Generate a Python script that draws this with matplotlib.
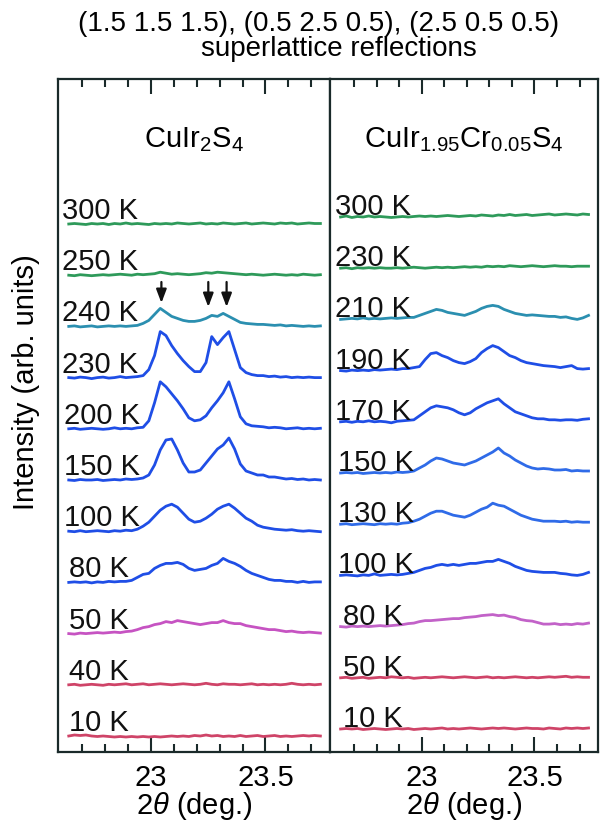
import numpy as np
import matplotlib
matplotlib.use('Agg')
import matplotlib.pyplot as plt
from matplotlib.ticker import FixedLocator

plt.rcParams['font.family'] = ['Liberation Sans', 'DejaVu Sans']
plt.rcParams['mathtext.fontset'] = 'custom'
plt.rcParams['mathtext.rm'] = 'Liberation Sans'
plt.rcParams['mathtext.it'] = 'Liberation Sans:italic'

# 2theta grid of the scans (deg.)
two_theta = np.linspace(22.64, 23.74, 45)

# ---- CuIr2S4 (left panel), intensity above each baseline, arb. units ----
L_temps = ['300 K', '250 K', '240 K', '230 K', '200 K', '150 K', '100 K', '80 K', '50 K', '40 K', '10 K']
L300 = [0, 0.5, 0, -0.5, 0.5, 0, 0.5, -0.5, 0.5, 0, 1, 0, 0.5, 0, -0.5, 0.5, 0, 0.5, 0, 1, 0.5, 0, 0.5, 1, 0,
        0.5, 0, 1, 0.5, 0, 0.5, 1, 0, 0.5, 1, 0.5, 0, 1, 0.5, 1, 0, 0.5, 1, 0.5, 0.5]
L250 = [0, -0.5, 0.5, 0, -0.5, 0, 0.5, 0, 0.5, 1, 0.5, 0, 1, 0.5, 1, 1.5, 3, 2, 1, 1.5, 1, 0.5, 1, 1.5, 2.5,
        2, 3, 2.5, 2, 1.5, 1, 0.5, 1, 0.5, 0, 0.5, 1, 0.5, 0, 0.5, 0, 1, 0.5, 0, 0.5]
L240 = [0, 0.5, -0.5, 0, 0.5, -0.5, 0, 0.5, 0, 0.5, 0, 0.5, 1, 3, 6, 12, 18, 14, 10, 8, 6, 5, 5, 6, 8,
        11, 10, 13, 10, 7, 4, 3, 2.5, 2, 2, 1.5, 1, 1.5, 0.5, 1, 0.5, 0, 0.5, 0, 0.5]
L230 = [0, -0.5, 0.5, 0, -1, 0, 0.5, -0.5, 0, 1, 0, 0.5, 1, 2, 8, 22, 46, 42, 32, 24, 17, 11, 6, 6, 15,
        41, 33, 40, 46, 28, 10, 5, 3, 2, 2, 1, 1.5, 0.5, 1, 0, 0.5, 0, 0.5, 0, 0]
L200 = [0, 0.5, -0.5, 0, 0.5, 0, -0.5, 0, 1, 0, 0.5, 0, 1, 1.5, 8, 26, 47, 42, 35, 28, 20, 11, 8, 9, 13,
        21, 28, 36, 47, 30, 12, 5, 3, 2.5, 2, 1, 1.5, 1, 0, 0.5, 1, 0, 0.5, 0, 0.5]
L150 = [0, -0.5, 0.5, 0, 0, 0.5, -0.5, 0, 0.5, 0, 1, 0.5, 1, 2, 5, 15, 30, 40, 41, 30, 17, 8, 8, 10, 17,
        24, 31, 35, 42, 31, 16, 9, 7, 5, 5, 3, 3, 2, 1, 1.5, 0.5, 1, 0, 0.5, 0]
L100 = [0, -0.5, 0.5, -0.5, 0, 0.5, 0, -0.5, 0.5, 0, 1, 0.5, 2, 5, 9, 15, 21, 25, 27, 24, 18, 12, 9, 10, 13,
        17, 22, 25, 27, 23, 18, 13, 10, 6, 4, 3, 2, 1.5, 1, 1.5, 0.5, 0, 0.5, 0, -0.5]
L80 = [0, 0.5, 0, 0.5, -0.5, 0.5, 0, 1, 0.5, 1, 1, 2, 5, 8, 9, 14, 17, 19, 19, 20, 18, 14, 12, 13, 14,
       17, 19, 24, 21, 19, 16, 12, 9, 7, 5, 3, 2, 2, 1, 1, 0, 1, 0, 0.5, 0.5]
L50 = [0, -0.5, 0.5, 0, 0.5, 1, 0.5, 1, 1.5, 1, 2, 2.5, 4, 6, 7, 9, 10, 12, 11, 13, 12, 11, 10, 9, 10,
       11, 11, 13, 11, 10, 10, 8, 7, 6, 5, 4, 4, 3, 2, 2.5, 1.5, 1, 1.5, 1, 0.5]
L40 = [0, 0.5, -0.5, 0, 0.5, 0, -0.5, 0.5, 0, 0.5, 1, 0, 0.5, 1, 0, 0.5, 1, 0.5, 0, 0.5, 1, 0.5, 0, 0.5, 1.5,
       0.5, 0, 1, 0.5, 0.5, 0, 0.5, 1, 0, 0.5, 0, 0.5, 0, 0.5, 1.5, 0.5, 0, 0.5, 0, 0.5]
L10 = [0, 1, 0.5, 1, 0, -0.5, 0, -0.5, -1, -0.5, -1, -0.5, -1, -0.5, -1, -0.5, -1, -0.5, 0, -0.5, 0, -0.5, 0.5, 0, 1,
       0, 0.5, -0.5, 0, -0.5, 0.5, -0.5, 0, 0.5, -0.5, 0, 0.5, -0.5, 0, -0.5, 0, 0.5, 0, 0.5, 0]
L_curves = [L300, L250, L240, L230, L200, L150, L100, L80, L50, L40, L10]

# ---- CuIr1.95Cr0.05S4 (right panel) ----
R_temps = ['300 K', '230 K', '210 K', '190 K', '170 K', '150 K', '130 K', '100 K', '80 K', '50 K', '10 K']
R300 = [0, 1, -0.5, 0.5, 0, 1, 0, 0.5, 0, -0.5, 0, 0.5, 0, 0.5, 1, 0.5, 1, 0.5, 1, 1.5, 1, 0.5, 1, 1.5, 1,
        2, 1.5, 1, 2, 1.5, 2.5, 1.5, 2, 2.5, 1.5, 2, 2.5, 3, 2, 2.5, 3, 2.5, 2, 3, 2.5]
R230 = [0, 0.5, -0.5, 0.5, 0, 0.5, 0, 0.5, 0, 0, 0.5, 0, 0.5, 1, 0.5, 0, 0.5, 1, 0.5, 1, 0.5, 1, 1.5, 1, 1.5,
        1, 2, 1.5, 2, 1.5, 2.5, 2, 1.5, 2, 2.5, 2, 1.5, 2, 2.5, 2, 2, 1.5, 2, 2, 2]
R210 = [0, 0.5, 1, 0.5, 1.5, 0.5, 1, 0.5, 1, 1.5, 1, 1.5, 2, 2, 4, 6, 8, 10, 9, 7, 6, 5, 4, 6, 8,
        11, 13, 14, 13, 10, 8, 6, 5, 4, 4.5, 4, 3.5, 3, 3, 2, 2.5, 1, 0, 1.5, 4]
R190 = [0, -0.5, 0.5, 0, 0.5, 0, 1, 0.5, 1, 1.5, 1, 2, 2, 3, 4, 11, 17, 18, 15, 13, 10, 8, 7, 9, 12,
        18, 22, 25, 23, 19, 15, 13, 10, 8, 7, 6, 5, 4.5, 4, 3, 4, 5, 2, 1.5, 2]
R170 = [0, 0.5, -0.5, 0.5, 0, 1, 0, 0.5, 0, -1, 0.5, 1, 1.5, 2, 6, 10, 14, 16, 15, 14, 12, 9, 7, 9, 13,
        16, 19, 21, 23, 18, 14, 10, 8, 6, 4, 3, 3, 2, 2, 1.5, 2, 2, 1.5, 2.5, 3]
R150 = [0, 0.5, 0, 0.5, -0.5, 0, 0.5, 0, 0.5, 0, 1, 0.5, 1, 2, 5, 8, 12, 15, 14, 12, 10, 9, 8, 10, 12,
        15, 18, 21, 25, 20, 17, 13, 10, 7, 5, 4, 4.5, 4, 3, 3, 3.5, 2, 2.5, 2, 2]
R130 = [0, 0.5, -0.5, 0, 0.5, 0, -0.5, 0.5, 0, 0.5, 0, 1, 1.5, 3, 5, 8, 11, 13, 13, 11, 9, 8, 7, 9, 12,
        15, 17, 21, 19, 18, 15, 12, 9, 7, 5, 4, 3, 3, 3, 2.5, 3, 2, 2.5, 2, 2]
R100 = [0, 0.5, 0, -0.5, 0.5, 0, 1.5, 0, 0.5, 1, 0.5, 1, 2, 3, 5, 7, 8, 10, 11, 10, 11, 10, 11, 12, 12,
        13, 14, 14, 16, 14, 12, 9, 7, 5, 4, 3.5, 3, 3, 3, 2, 1.5, 0.5, 0, 1, 3]
R80 = [0, -0.5, 0.5, 0, 0.5, 0, 0.5, 1, 0.5, 1, 1.5, 2, 3, 3.5, 5, 6, 6, 6.5, 7, 7.5, 8, 8, 9, 9.5, 10,
       11, 11.5, 12, 11, 11.5, 10, 9, 7, 6, 5.5, 4, 2.5, 2.5, 3, 2, 2.5, 2, 3, 2.5, 3.5]
R50 = [0, 0.5, -0.5, 0, 0.5, -0.5, 0, 0.5, 0, 1, 0.5, 0, 0.5, -0.5, 0, 0.5, 0, 0.5, 1, 0.5, 0, 0.5, 1, 0.5, 0,
       0.5, 1, 0, 0.5, 0, 0.5, 1, 0.5, 0, 0.5, 0, 0.5, 1, 0.5, 1, 1.5, 0.5, 1, 0.5, 0.5]
R10 = [0, 0.5, 0, 0.5, -0.5, 0, 0.5, 0, -0.5, 0, 0.5, 0, 0.5, -0.5, 0, 0.5, 0, 0.5, 1, 0, 0.5, 0, 0.5, 1, 0.5,
       0, 0.5, 1, 0.5, 1, 0.5, 0, 0.5, 1, 0.5, 0.5, 0, 1, 0.5, 0, 1, 0.5, 1, 0.5, 1]
R_curves = [R300, R230, R210, R190, R170, R150, R130, R100, R80, R50, R10]

# superlattice peak positions marked with arrows (CuIr2S4, 240 K)
arrow_pos = [23.045, 23.25, 23.33]

GREEN, TEAL, BLUE, BLUE2 = '#2e9a5a', '#2b8fb0', '#1f4ee6', '#2f6be8'
MAGENTA, PURPLE, RED = '#c653c2', '#c262c8', '#cf4468'
L_colors = [GREEN, GREEN, TEAL, BLUE, BLUE, BLUE, BLUE, BLUE, MAGENTA, RED, RED]
R_colors = [GREEN, GREEN, TEAL, BLUE, BLUE, BLUE2, BLUE2, BLUE, PURPLE, RED, RED]

FS = 21
fig = plt.figure(figsize=(6.03, 8.25), dpi=100)
axL = fig.add_axes([58/603, 73/825, 272/603, 673/825])
axR = fig.add_axes([330/603, 73/825, 268/603, 673/825])


def panel(ax, curves, temps, colors, top, lab_x, lab_dy, title):
    for k, (c, t, col) in enumerate(zip(curves, temps, colors)):
        base = top - 51.2 * k
        ax.plot(two_theta, base + np.array(c), color=col, lw=2.0)
        ax.text(lab_x[k], base + lab_dy, t, fontsize=FS, ha='left', va='baseline', color='#111111')
    ax.text(0.5, 0.91, title, transform=ax.transAxes, ha='center', va='center', fontsize=FS)
    ax.set_xlim(22.593, 23.782)
    ax.set_ylim(0, 673)
    ax.set_yticks([])
    ax.xaxis.set_major_locator(FixedLocator([23.0, 23.5]))
    ax.xaxis.set_minor_locator(FixedLocator(np.arange(22.7, 23.75, 0.1)))
    ax.set_xticklabels(['23', '23.5'])
    ax.tick_params(axis='x', which='both', direction='in', top=True, width=1.5, color='#1a2a2a',
                   labelsize=FS, pad=9)
    ax.tick_params(axis='x', which='major', length=11)
    ax.tick_params(axis='x', which='minor', length=6)
    for s in ax.spines.values():
        s.set_linewidth(1.6)
        s.set_color('#1a2a2a')
    ax.set_xlabel(r'2$\theta$ (deg.)', fontsize=FS, labelpad=-2)


panel(axL, L_curves, L_temps, L_colors, 752 - 224,
      [22.61] * 4 + [22.62] * 3 + [22.64] * 4, 5, r'CuIr$_2$S$_4$')
panel(axR, R_curves, R_temps, R_colors, 752 - 217,
      [22.615] * 5 + [22.63] * 3 + [22.65] * 3, 2, r'CuIr$_{1.95}$Cr$_{0.05}$S$_4$')

for i, xp in enumerate(arrow_pos):
    tip = 752 - 303 if i == 0 else 752 - 307
    axL.annotate('', xy=(xp, tip), xytext=(xp, 752 - 282),
                 arrowprops=dict(arrowstyle='-|>,head_length=0.45,head_width=0.17', color='#111111',
                                 lw=1.6, mutation_scale=18, shrinkA=0, shrinkB=0))

fig.text(26/603, 1 - 382/825, 'Intensity (arb. units)', rotation=90, ha='center', va='center', fontsize=FS)
fig.text(319/603, 1 - 24/825, '(1.5 1.5 1.5), (0.5 2.5 0.5), (2.5 0.5 0.5)', ha='center', va='center', fontsize=20)
fig.text(339/603, 1 - 49/825, 'superlattice reflections', ha='center', va='center', fontsize=20)

fig.savefig('out.png', dpi=100)
